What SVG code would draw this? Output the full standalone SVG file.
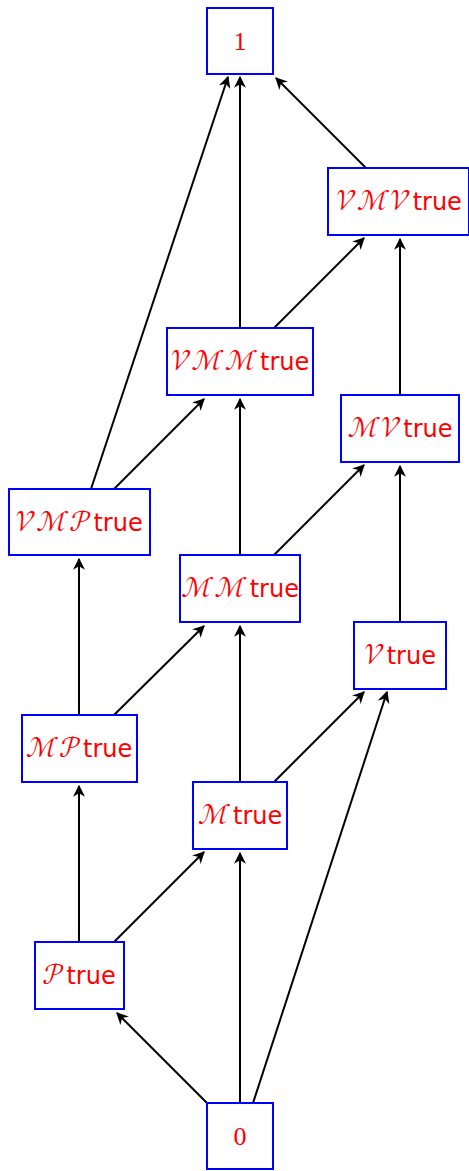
<svg xmlns="http://www.w3.org/2000/svg" width="469" height="1171" viewBox="0 0 469 1171">
  <style>
    .box { fill: #ffffff; stroke: #0000ff; stroke-width: 2; }
    .lbl { fill: #ff0000; font-family: "DejaVu Sans", "Noto Sans", sans-serif; font-size: 24px; text-anchor: middle; }
    .scr { font-family: math, serif; font-size: 29px; }
    .num { fill: #ff0000; font-family: "Liberation Serif", "DejaVu Serif", serif; font-size: 26px; text-anchor: middle; }
    .edge { stroke: #000000; stroke-width: 2; fill: none; marker-end: url(#arrow); }
  </style>
  <defs>
    <marker id="arrow" viewBox="0 0 10 10" refX="9" refY="5" markerWidth="6" markerHeight="6" orient="auto" markerUnits="strokeWidth">
      <path d="M0,0 L10,5 L0,10 L3,5 Z" fill="#000000"/>
    </marker>
  </defs>

  <g id="connectors">
    <line class="edge" x1="207" y1="1103" x2="117" y2="1013"/>
    <line class="edge" x1="240" y1="1103" x2="240" y2="853"/>
    <line class="edge" x1="253" y1="1103" x2="387" y2="692"/>
    <line class="edge" x1="79" y1="942" x2="79" y2="786"/>
    <line class="edge" x1="114" y1="942" x2="204" y2="852"/>
    <line class="edge" x1="79" y1="715" x2="79" y2="559"/>
    <line class="edge" x1="114" y1="715" x2="204" y2="626"/>
    <line class="edge" x1="240" y1="782" x2="240" y2="626"/>
    <line class="edge" x1="274" y1="782" x2="364" y2="692"/>
    <line class="edge" x1="114" y1="489" x2="204" y2="399"/>
    <line class="edge" x1="91" y1="489" x2="228" y2="77"/>
    <line class="edge" x1="240" y1="555" x2="240" y2="399"/>
    <line class="edge" x1="274" y1="555" x2="364" y2="465"/>
    <line class="edge" x1="400" y1="622" x2="400" y2="466"/>
    <line class="edge" x1="240" y1="328" x2="240" y2="77"/>
    <line class="edge" x1="274" y1="328" x2="364" y2="238"/>
    <line class="edge" x1="400" y1="395" x2="400" y2="239"/>
    <line class="edge" x1="366" y1="168" x2="276" y2="78"/>
  </g>

  <g id="n1">
    <rect class="box" x="207" y="8" width="66" height="66"/>
    <text class="num" x="240" y="50">1</text>
  </g>
  <g id="nVMV">
    <rect class="box" x="328" y="168" width="141" height="67"/>
    <text class="lbl" x="399" y="210"><tspan class="scr">𝒱ℳ𝒱</tspan><tspan dx="2">true</tspan></text>
  </g>
  <g id="nVMM">
    <rect class="box" x="167" y="328" width="146" height="67"/>
    <text class="lbl" x="240" y="370"><tspan class="scr">𝒱ℳℳ</tspan><tspan dx="2">true</tspan></text>
  </g>
  <g id="nMV">
    <rect class="box" x="341" y="395" width="118" height="67"/>
    <text class="lbl" x="400" y="437"><tspan class="scr">ℳ𝒱</tspan><tspan dx="2">true</tspan></text>
  </g>
  <g id="nVMP">
    <rect class="box" x="9" y="489" width="141" height="66"/>
    <text class="lbl" x="79" y="531"><tspan class="scr">𝒱ℳ𝒫</tspan><tspan dx="2">true</tspan></text>
  </g>
  <g id="nMM">
    <rect class="box" x="180" y="555" width="120" height="67"/>
    <text class="lbl" x="240" y="597"><tspan class="scr">ℳℳ</tspan><tspan dx="2">true</tspan></text>
  </g>
  <g id="nV">
    <rect class="box" x="354" y="622" width="92" height="67"/>
    <text class="lbl" x="400" y="664"><tspan class="scr">𝒱</tspan><tspan dx="2">true</tspan></text>
  </g>
  <g id="nMP">
    <rect class="box" x="22" y="715" width="115" height="67"/>
    <text class="lbl" x="79" y="757"><tspan class="scr">ℳ𝒫</tspan><tspan dx="2">true</tspan></text>
  </g>
  <g id="nM">
    <rect class="box" x="193" y="782" width="94" height="67"/>
    <text class="lbl" x="240" y="824"><tspan class="scr">ℳ</tspan><tspan dx="2">true</tspan></text>
  </g>
  <g id="nP">
    <rect class="box" x="35" y="942" width="89" height="67"/>
    <text class="lbl" x="79" y="984"><tspan class="scr">𝒫</tspan><tspan dx="2">true</tspan></text>
  </g>
  <g id="n0">
    <rect class="box" x="207" y="1103" width="66" height="66"/>
    <text class="num" x="240" y="1145">0</text>
  </g>
</svg>
